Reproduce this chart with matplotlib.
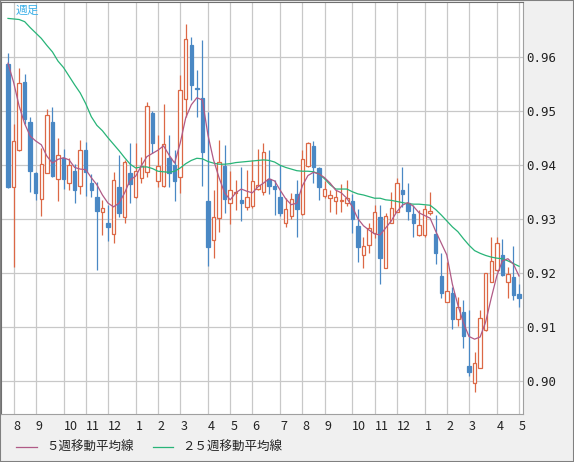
import matplotlib
matplotlib.use("Agg")
import matplotlib.pyplot as plt
from matplotlib.lines import Line2D
from matplotlib.patches import Rectangle
from matplotlib.transforms import ScaledTranslation

# weekly candles (oldest -> newest)
opens = [0.9588, 0.9360, 0.9429, 0.9554, 0.9480, 0.9386, 0.9337, 0.9386, 0.9480, 0.9375,
         0.9414, 0.9367, 0.9389, 0.9362, 0.9428, 0.9367, 0.9341, 0.9314, 0.9293, 0.9273,
         0.9360, 0.9304, 0.9385, 0.9341, 0.9376, 0.9387, 0.9497, 0.9370, 0.9362, 0.9414,
         0.9400, 0.9378, 0.9522, 0.9623, 0.9544, 0.9525, 0.9333, 0.9261, 0.9302, 0.9399,
         0.9330, 0.9348, 0.9336, 0.9322, 0.9325, 0.9357, 0.9351, 0.9375, 0.9362, 0.9342,
         0.9293, 0.9306, 0.9347, 0.9309, 0.9399, 0.9436, 0.9395, 0.9344, 0.9340, 0.9334,
         0.9334, 0.9330, 0.9334, 0.9288, 0.9234, 0.9252, 0.9274, 0.9304, 0.9210, 0.9294,
         0.9314, 0.9354, 0.9331, 0.9310, 0.9270, 0.9270, 0.9311, 0.9272, 0.9195, 0.9147,
         0.9163, 0.9115, 0.9129, 0.9028, 0.8996, 0.9025, 0.9095, 0.9184, 0.9206, 0.9234,
         0.9183, 0.9194, 0.9162]
highs = [0.9608, 0.9477, 0.9580, 0.9569, 0.9489, 0.9387, 0.9432, 0.9504, 0.9508, 0.9451,
         0.9430, 0.9414, 0.9402, 0.9447, 0.9443, 0.9384, 0.9369, 0.9336, 0.9327, 0.9387,
         0.9419, 0.9410, 0.9441, 0.9441, 0.9416, 0.9518, 0.9501, 0.9457, 0.9514, 0.9456,
         0.9428, 0.9567, 0.9661, 0.9638, 0.9577, 0.9632, 0.9499, 0.9354, 0.9447, 0.9437,
         0.9389, 0.9373, 0.9396, 0.9391, 0.9410, 0.9430, 0.9442, 0.9428, 0.9373, 0.9401,
         0.9339, 0.9348, 0.9373, 0.9428, 0.9443, 0.9445, 0.9397, 0.9370, 0.9354, 0.9354,
         0.9365, 0.9373, 0.9347, 0.9319, 0.9268, 0.9293, 0.9327, 0.9327, 0.9312, 0.9351,
         0.9377, 0.9397, 0.9367, 0.9327, 0.9317, 0.9327, 0.9350, 0.9308, 0.9237, 0.9221,
         0.9175, 0.9157, 0.9151, 0.9132, 0.9055, 0.9132, 0.9201, 0.9268, 0.9268, 0.9263,
         0.9212, 0.9251, 0.9180]
lows = [0.9358, 0.9211, 0.9427, 0.9477, 0.9351, 0.9336, 0.9306, 0.9385, 0.9379, 0.9333,
        0.9357, 0.9354, 0.9331, 0.9346, 0.9343, 0.9341, 0.9207, 0.9270, 0.9259, 0.9256,
        0.9305, 0.9294, 0.9331, 0.9340, 0.9367, 0.9379, 0.9422, 0.9359, 0.9359, 0.9360,
        0.9333, 0.9348, 0.9490, 0.9521, 0.9489, 0.9362, 0.9214, 0.9229, 0.9277, 0.9312,
        0.9291, 0.9317, 0.9296, 0.9317, 0.9321, 0.9354, 0.9345, 0.9347, 0.9308, 0.9306,
        0.9286, 0.9300, 0.9267, 0.9308, 0.9397, 0.9367, 0.9336, 0.9340, 0.9314, 0.9310,
        0.9314, 0.9325, 0.9275, 0.9220, 0.9210, 0.9237, 0.9266, 0.9180, 0.9210, 0.9293,
        0.9314, 0.9323, 0.9299, 0.9268, 0.9269, 0.9268, 0.9308, 0.9217, 0.9154, 0.9147,
        0.9096, 0.9102, 0.9061, 0.9009, 0.8981, 0.9025, 0.9094, 0.9184, 0.9205, 0.9195,
        0.9154, 0.9151, 0.9138]
closes = [0.9360, 0.9445, 0.9552, 0.9485, 0.9390, 0.9349, 0.9402, 0.9493, 0.9380, 0.9419,
          0.9375, 0.9400, 0.9354, 0.9428, 0.9388, 0.9354, 0.9316, 0.9320, 0.9285, 0.9372,
          0.9311, 0.9407, 0.9366, 0.9389, 0.9399, 0.9510, 0.9441, 0.9399, 0.9439, 0.9386,
          0.9370, 0.9539, 0.9634, 0.9549, 0.9541, 0.9425, 0.9249, 0.9304, 0.9406, 0.9337,
          0.9354, 0.9351, 0.9331, 0.9342, 0.9371, 0.9363, 0.9425, 0.9362, 0.9357, 0.9312,
          0.9319, 0.9338, 0.9319, 0.9411, 0.9442, 0.9396, 0.9359, 0.9356, 0.9345, 0.9342,
          0.9336, 0.9339, 0.9301, 0.9249, 0.9251, 0.9283, 0.9313, 0.9228, 0.9306, 0.9320,
          0.9367, 0.9346, 0.9316, 0.9294, 0.9289, 0.9319, 0.9315, 0.9237, 0.9163, 0.9167,
          0.9115, 0.9138, 0.9083, 0.9017, 0.9033, 0.9117, 0.9200, 0.9223, 0.9257, 0.9197,
          0.9199, 0.9160, 0.9155]

# moving averages as shown on the chart
ma5 = [0.9589, 0.9554, 0.9510, 0.9477, 0.9454, 0.9445, 0.9438, 0.9417, 0.9404, 0.9411,
       0.9414, 0.9410, 0.9396, 0.9393, 0.9392, 0.9377, 0.9364, 0.9345, 0.9330, 0.9323,
       0.9330, 0.9349, 0.9373, 0.9380, 0.9399, 0.9416, 0.9422, 0.9428, 0.9436, 0.9419,
       0.9404, 0.9441, 0.9488, 0.9512, 0.9525, 0.9521, 0.9456, 0.9410, 0.9377, 0.9349,
       0.9336, 0.9349, 0.9356, 0.9352, 0.9349, 0.9360, 0.9367, 0.9375, 0.9371, 0.9354,
       0.9338, 0.9327, 0.9330, 0.9362, 0.9381, 0.9387, 0.9384, 0.9377, 0.9367, 0.9354,
       0.9349, 0.9339, 0.9323, 0.9301, 0.9288, 0.9280, 0.9273, 0.9271, 0.9284, 0.9297,
       0.9314, 0.9326, 0.9331, 0.9324, 0.9312, 0.9307, 0.9302, 0.9278, 0.9256, 0.9234,
       0.9180, 0.9141, 0.9108, 0.9083, 0.9078, 0.9082, 0.9110, 0.9154, 0.9195, 0.9223,
       0.9227, 0.9217, 0.9195]
ma25 = [0.9672, 0.9671, 0.9670, 0.9666, 0.9655, 0.9645, 0.9635, 0.9622, 0.9610, 0.9593,
        0.9581, 0.9565, 0.9549, 0.9534, 0.9514, 0.9490, 0.9474, 0.9464, 0.9451, 0.9439,
        0.9427, 0.9414, 0.9402, 0.9395, 0.9397, 0.9397, 0.9394, 0.9389, 0.9388, 0.9387,
        0.9389, 0.9395, 0.9403, 0.9409, 0.9413, 0.9412, 0.9407, 0.9404, 0.9402, 0.9402,
        0.9403, 0.9405, 0.9406, 0.9407, 0.9408, 0.9409, 0.9410, 0.9409, 0.9406, 0.9400,
        0.9396, 0.9393, 0.9390, 0.9389, 0.9389, 0.9388, 0.9384, 0.9375, 0.9364, 0.9356,
        0.9356, 0.9356, 0.9351, 0.9347, 0.9345, 0.9342, 0.9339, 0.9339, 0.9336, 0.9335,
        0.9333, 0.9331, 0.9329, 0.9328, 0.9328, 0.9327, 0.9326, 0.9318, 0.9308, 0.9297,
        0.9286, 0.9277, 0.9264, 0.9252, 0.9242, 0.9237, 0.9233, 0.9230, 0.9228, 0.9227,
        0.9223, 0.9218, 0.9213]

# first week of each month and its label
month_start_week = [1, 5, 10, 14, 18, 23, 27, 31, 36, 40, 44, 49, 53, 57, 62, 66, 70, 75, 79, 83, 88, 92]
month_labels = ["8", "9", "10", "11", "12", "1", "2", "3", "4", "5", "6",
                "7", "8", "9", "10", "11", "12", "1", "2", "3", "4", "5"]
y_ticks = [0.90, 0.91, 0.92, 0.93, 0.94, 0.95, 0.96]

UP = "#dc6846"
DOWN = "#4a88c4"
MA5_COLOR = "#b05a86"
MA25_COLOR = "#28b478"
JP = ["Noto Sans CJK JP", "DejaVu Sans"]

fig = plt.figure(figsize=(5.74, 4.62), dpi=100, facecolor="#f0f0f0")
ax = fig.add_axes([1 / 574, 48 / 462, 522 / 574, 412 / 462])
ax.set_facecolor("white")

x = list(range(len(opens)))
is_up = [c >= o for o, c in zip(opens, closes)]
colors = [UP if u else DOWN for u in is_up]
faces = ["white" if u else DOWN for u in is_up]

ax.vlines(x, lows, highs, colors=colors, linewidth=0.9, zorder=2)
ax.bar(x, [abs(c - o) for o, c in zip(opens, closes)],
       bottom=[min(o, c) for o, c in zip(opens, closes)],
       width=0.62, color=faces, edgecolor=colors, linewidth=0.9, zorder=3)

ax.plot(x, ma25, color=MA25_COLOR, linewidth=0.9, zorder=4)
ax.plot(x, ma5, color=MA5_COLOR, linewidth=0.9, zorder=4)

ax.set_xlim(-1.26, 92.72)
ax.set_ylim(0.89394, 0.97024)

ax.set_xticks(month_start_week)
ax.set_xticklabels(month_labels, family=JP, fontsize=9, color="#222222", ha="left")
shift = ScaledTranslation(-4.5 / 100, 0, fig.dpi_scale_trans)
for lab in ax.get_xticklabels():
    lab.set_transform(lab.get_transform() + shift)

ax.yaxis.tick_right()
ax.set_yticks(y_ticks)
ax.set_yticklabels([f"{v:.2f}" for v in y_ticks], family="DejaVu Sans Mono",
                   fontsize=9, color="#222222")
ax.tick_params(axis="both", length=0)
ax.tick_params(axis="y", pad=2)
ax.tick_params(axis="x", pad=4.5)

ax.grid(True, color="#c8c8c8", linewidth=0.9, zorder=0)
ax.set_axisbelow(True)
for side in ["top", "left"]:
    ax.spines[side].set_color("#707070")
for side in ["right", "bottom"]:
    ax.spines[side].set_color("#a0a0a0")

ax.text(15 / 522, 1 - 2 / 412, "週足", transform=ax.transAxes, family=JP,
        fontsize=8.5, color="#3cb0e8", va="top", ha="left")

# legend below the axis labels
ly = 1 - 447 / 462
fig.add_artist(Line2D([16 / 574, 37 / 574], [ly, ly], color=MA5_COLOR, linewidth=0.9))
fig.text(46 / 574, ly, "５週移動平均線", family=JP, fontsize=9, color="#222222", va="center")
fig.add_artist(Line2D([153 / 574, 173 / 574], [ly, ly], color=MA25_COLOR, linewidth=0.9))
fig.text(182 / 574, ly, "２５週移動平均線", family=JP, fontsize=9, color="#222222", va="center")

fig.add_artist(Rectangle((0, 0), 1, 1, transform=fig.transFigure, fill=False,
                         edgecolor="#808080", linewidth=1.5))

fig.savefig("out.png", dpi=100, facecolor=fig.get_facecolor())
